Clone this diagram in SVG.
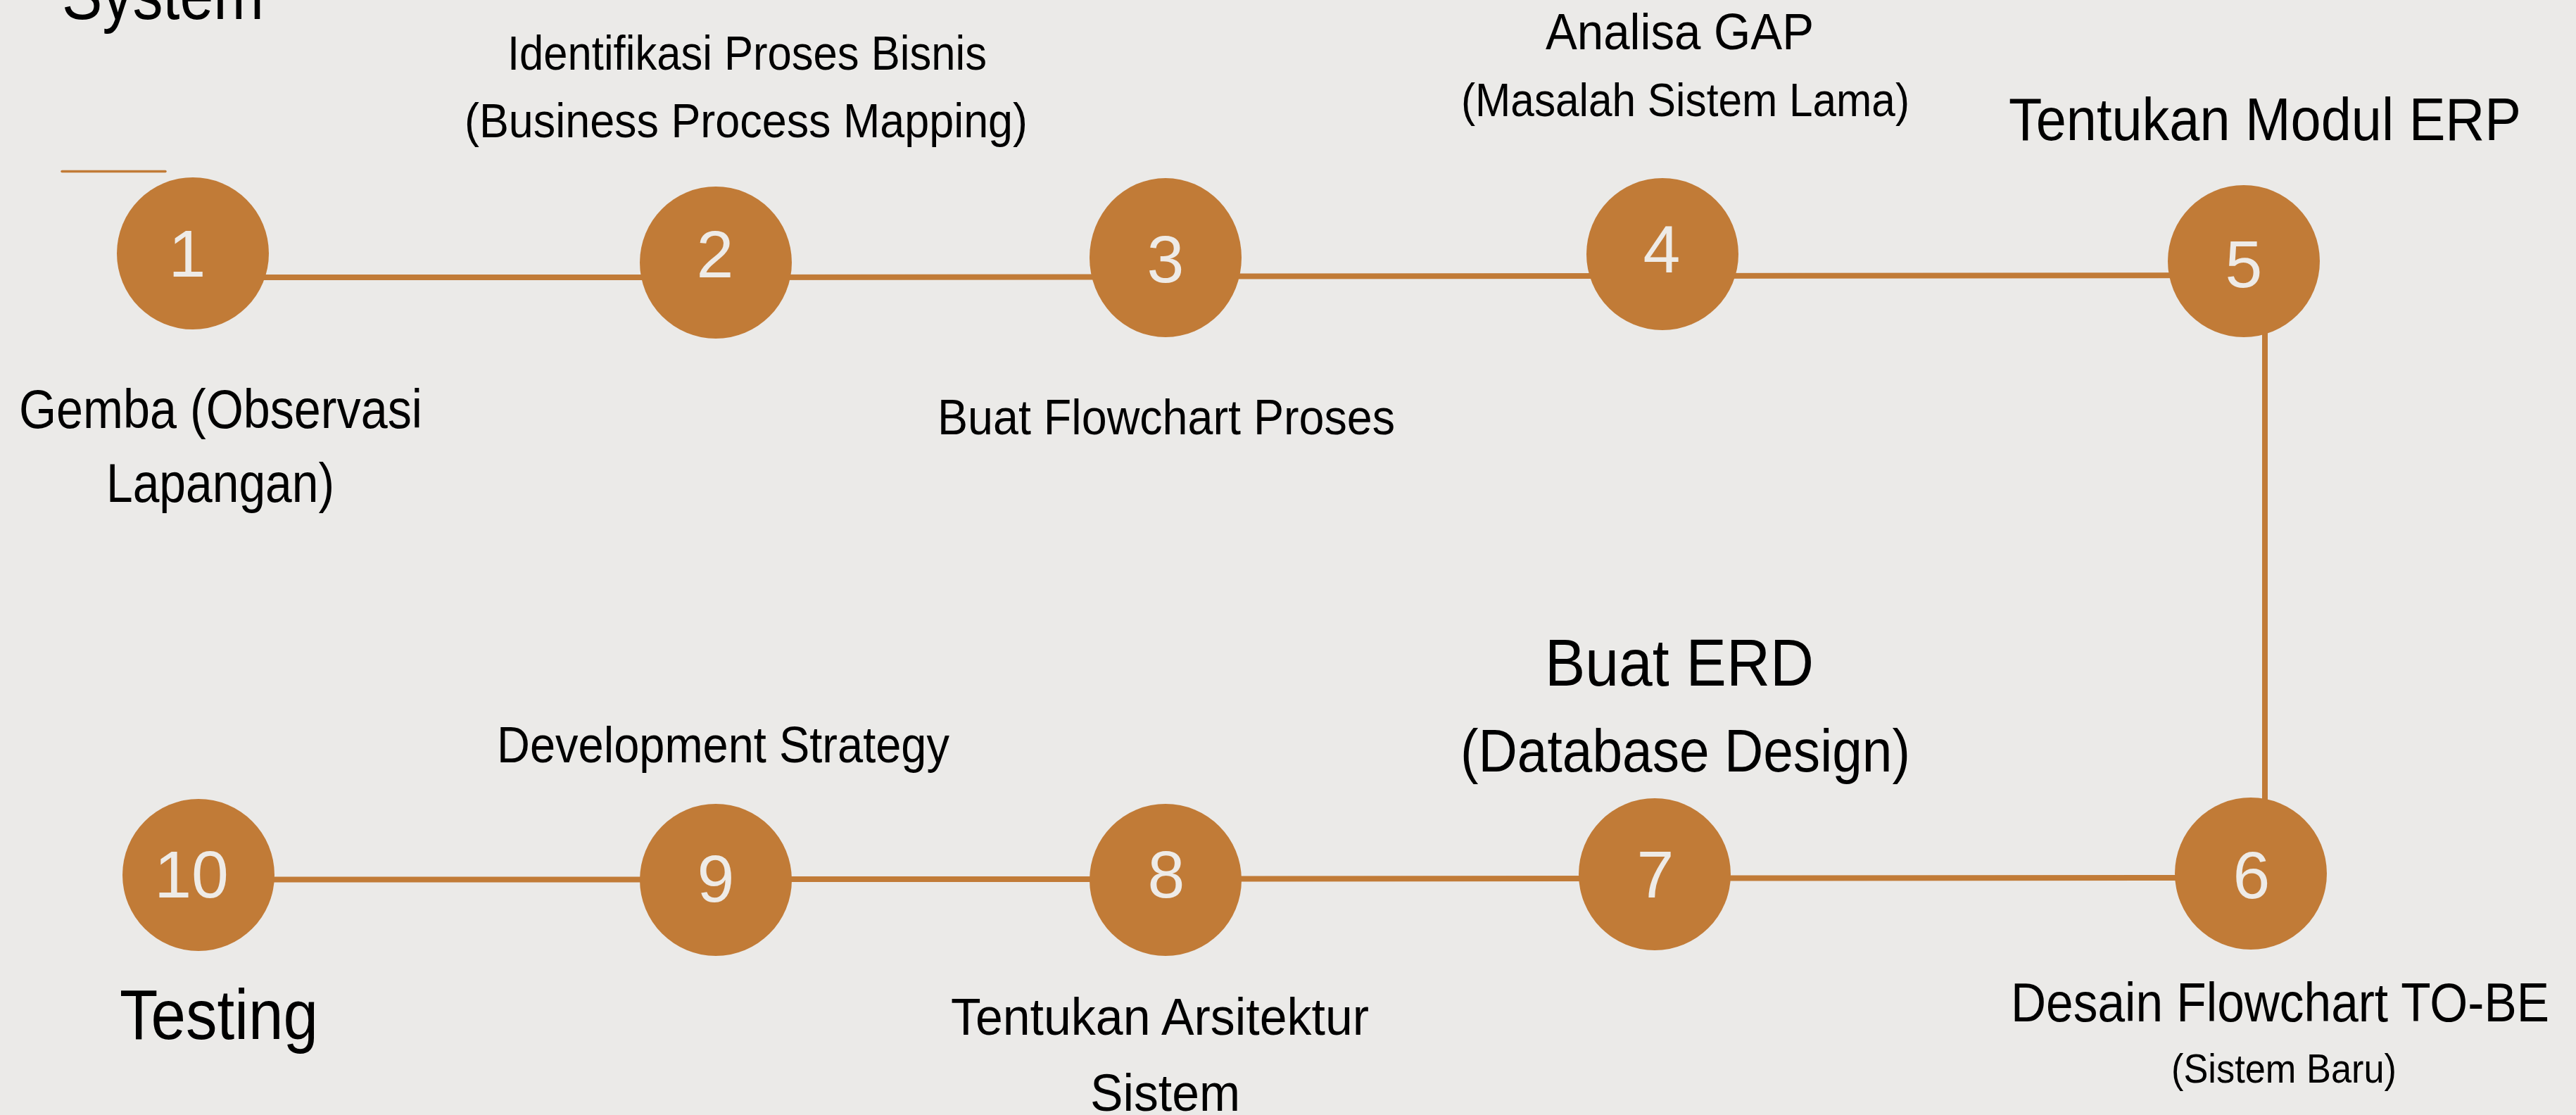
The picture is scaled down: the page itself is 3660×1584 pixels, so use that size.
<svg xmlns="http://www.w3.org/2000/svg" width="3660" height="1584" viewBox="0 0 3660 1584">
<style>
.bg{fill:#EBEAE8}
.node{fill:#C17B37}
.num{fill:#EEEBE7;font-family:"Liberation Sans",Arial,sans-serif;font-size:95px;text-anchor:middle}
.lbl{fill:#000;font-family:"Liberation Sans",Arial,sans-serif}
.conn{stroke:#C17B37;stroke-width:8;fill:none}
</style>
<rect class="bg" x="0" y="0" width="3660" height="1584"/>
<g id="title">
<text class="lbl" x="88" y="27" font-size="100" textLength="287" lengthAdjust="spacingAndGlyphs">System</text>
<line x1="88" y1="243.5" x2="235" y2="243.5" stroke="#C17B37" stroke-width="3.5" stroke-linecap="round"/>
</g>
<g id="connectors">
<line class="conn" x1="274" y1="394" x2="1017" y2="394"/>
<line class="conn" x1="1017" y1="394" x2="1656" y2="393.5"/>
<line class="conn" x1="1656" y1="392.5" x2="2362" y2="392"/>
<line class="conn" x1="2362" y1="392" x2="3188" y2="391"/>
<line class="conn" x1="3218" y1="440" x2="3218" y2="1200"/>
<line class="conn" x1="3198" y1="1247" x2="2351" y2="1247.5"/>
<line class="conn" x1="2351" y1="1248" x2="1656" y2="1248.5"/>
<line class="conn" x1="1656" y1="1249" x2="1017" y2="1249"/>
<line class="conn" x1="1017" y1="1249.5" x2="282" y2="1249.5"/>
</g>
<g id="node1">
<circle class="node" cx="274" cy="360" r="108"/>
<text class="num" x="266" y="393">1</text>
<text class="lbl" x="27" y="608" font-size="77" textLength="573" lengthAdjust="spacingAndGlyphs">Gemba (Observasi</text>
<text class="lbl" x="151" y="713" font-size="77" textLength="324" lengthAdjust="spacingAndGlyphs">Lapangan)</text>
</g>
<g id="node2">
<circle class="node" cx="1017" cy="373" r="108"/>
<text class="num" x="1016" y="394">2</text>
<text class="lbl" x="721" y="99" font-size="68" textLength="681" lengthAdjust="spacingAndGlyphs">Identifikasi Proses Bisnis</text>
<text class="lbl" x="660" y="195" font-size="68" textLength="800" lengthAdjust="spacingAndGlyphs">(Business Process Mapping)</text>
</g>
<g id="node3">
<ellipse class="node" cx="1656" cy="366" rx="108" ry="113"/>
<text class="num" x="1656" y="401">3</text>
<text class="lbl" x="1332" y="617" font-size="71" textLength="650" lengthAdjust="spacingAndGlyphs">Buat Flowchart Proses</text>
</g>
<g id="node4">
<circle class="node" cx="2362" cy="361" r="108"/>
<text class="num" x="2361" y="387">4</text>
<text class="lbl" x="2196" y="70" font-size="72" textLength="381" lengthAdjust="spacingAndGlyphs">Analisa GAP</text>
<text class="lbl" x="2076" y="165" font-size="67" textLength="637" lengthAdjust="spacingAndGlyphs">(Masalah Sistem Lama)</text>
</g>
<g id="node5">
<circle class="node" cx="3188" cy="371" r="108"/>
<text class="num" x="3188" y="408">5</text>
<text class="lbl" x="2854" y="199" font-size="85" textLength="728" lengthAdjust="spacingAndGlyphs">Tentukan Modul ERP</text>
</g>
<g id="node6">
<circle class="node" cx="3198" cy="1241" r="108"/>
<text class="num" x="3199" y="1276">6</text>
<text class="lbl" x="2857" y="1451" font-size="78" textLength="765" lengthAdjust="spacingAndGlyphs">Desain Flowchart TO-BE</text>
<text class="lbl" x="3085" y="1538" font-size="58" textLength="320" lengthAdjust="spacingAndGlyphs">(Sistem Baru)</text>
</g>
<g id="node7">
<circle class="node" cx="2351" cy="1242" r="108"/>
<text class="num" x="2352" y="1275">7</text>
<text class="lbl" x="2195" y="974" font-size="95" textLength="382" lengthAdjust="spacingAndGlyphs">Buat ERD</text>
<text class="lbl" x="2075" y="1096" font-size="85" textLength="639" lengthAdjust="spacingAndGlyphs">(Database Design)</text>
</g>
<g id="node8">
<circle class="node" cx="1656" cy="1250" r="108"/>
<text class="num" x="1657" y="1275">8</text>
<text class="lbl" x="1351" y="1470" font-size="75" textLength="594" lengthAdjust="spacingAndGlyphs">Tentukan Arsitektur</text>
<text class="lbl" x="1549" y="1578" font-size="75" textLength="213" lengthAdjust="spacingAndGlyphs">Sistem</text>
</g>
<g id="node9">
<circle class="node" cx="1017" cy="1250" r="108"/>
<text class="num" x="1017" y="1281">9</text>
<text class="lbl" x="706" y="1083" font-size="72" textLength="643" lengthAdjust="spacingAndGlyphs">Development Strategy</text>
</g>
<g id="node10">
<circle class="node" cx="282" cy="1243" r="108"/>
<text class="num" x="272" y="1275">10</text>
<text class="lbl" x="170" y="1476" font-size="100" textLength="282" lengthAdjust="spacingAndGlyphs">Testing</text>
</g>
</svg>
